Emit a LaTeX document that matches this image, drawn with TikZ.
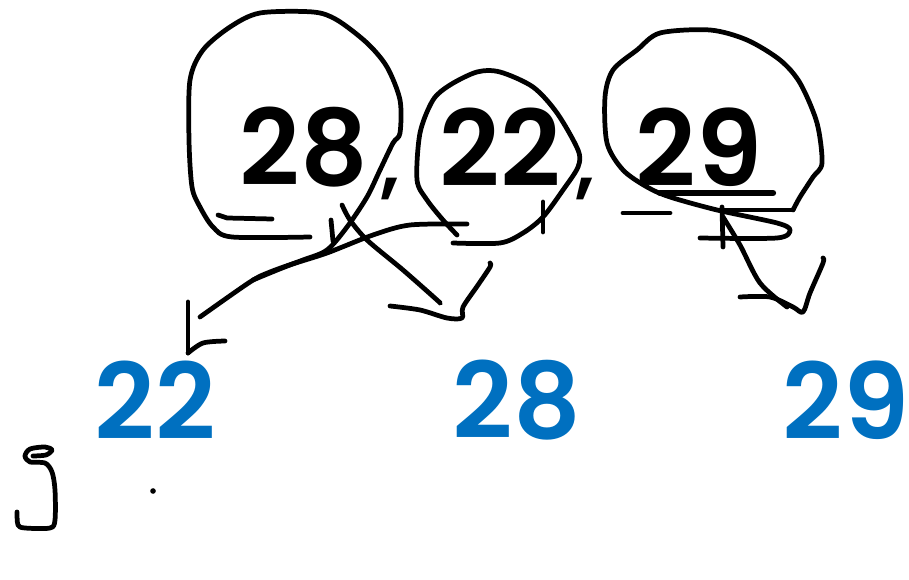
\documentclass[tikz,border=0pt]{standalone}
\usepackage{fontspec}
\newfontfamily\numfont{Poppins SemiBold}
\definecolor{penblue}{HTML}{0070C0}

\begin{document}
\begin{tikzpicture}[x=0.02cm, y=-0.02cm,
  pen/.style={line width=2.7pt, line cap=round, line join=round},
  numtext/.style={inner sep=0pt, font=\numfont\fontsize{60}{60}\selectfont},
  commatext/.style={inner sep=0pt, font=\numfont\fontsize{44}{44}\selectfont}]

  \useasboundingbox (0,0) rectangle (909,580);

  % --- 1. 上段の数 ---
  \node[numtext] (top28) at (304,147) {28};
  \node[numtext] (top22) at (500,147) {22};
  \node[numtext] (top29) at (699,147) {29};
  \node[commatext, anchor=base] (comA) at (390,190) {,};
  \node[commatext, anchor=base] (comB) at (585,190) {,};

  % --- 2. 下段の数 (青) ---
  \node[numtext, penblue] (low22) at (155,400) {22};
  \node[numtext, penblue] (low28) at (517,400) {28};
  \node[numtext, penblue] (low29) at (846,400) {29};

  % --- 3. 28 の囲み と 22 への線 ---
  \draw[pen] plot[smooth, tension=0.5] coordinates {(310,237) (232,237) (213,227) (200,207) (192,187)
    (189,140) (190,80) (203,50) (230,27) (260,13) (313,12) (337,20) (367,43) (387,67) (400,100)
    (400,133) (393,143) (380,170) (367,197) (347,227) (327,250) (303,260) (270,272) (250,282) (200,317)};
  \draw[pen] (218,215) -- (227,218) -- (272,219);
  \draw[pen] (331,220) -- (333,241);

  % --- 4. 22 の囲み ---
  \draw[pen] plot[smooth, tension=0.5] coordinates {(453,243) (500,243) (523,233) (543,217) (563,190)
    (578,167) (578,150) (557,113) (533,87) (500,72) (477,72) (450,85) (433,100) (420,133) (417,180)
    (427,200) (443,220) (457,235)};
  \draw[pen] plot[smooth, tension=0.5] coordinates {(467,224) (410,225) (373,235) (327,253) (290,265) (253,280)};
  \draw[pen] (543,202) -- (543,232);

  % 矢じり (左の 22)
  \draw[pen] (188,302) -- (188,353);
  \draw[pen] plot[smooth] coordinates {(188,353) (203,343) (225,341)};

  % --- 5. 28 -> 28 ---
  \draw[pen] plot[smooth, tension=0.5] coordinates {(342,205) (350,220) (367,240) (403,270) (437,300) (440,303)};
  \draw[pen] plot[smooth, tension=0.5] coordinates {(390,306) (420,310) (447,318) (462,318) (463,307)
    (478,285) (490,267) (490,263)};

  % --- 6. 29 の囲み ---
  \draw[pen] plot[smooth, tension=0.5] coordinates {(793,210) (800,197) (813,177) (822,163) (817,123)
    (800,83) (780,60) (747,40) (710,30) (660,33) (637,50) (613,70) (605,97) (607,143) (623,170)
    (647,187) (670,197) (717,210) (777,223) (790,230) (777,238) (700,238)};
  \draw[pen] (717,210) -- (793,210);
  \draw[pen, line width=3.6pt] (660,193) -- (773,193);
  \draw[pen] (722,207) -- (723,247);
  \draw[pen] (623,213) -- (670,213);

  % --- 7. 29 -> 29 ---
  \draw[pen] plot[smooth, tension=0.5] coordinates {(723,217) (740,245) (760,283) (787,307)};
  \draw[pen] plot[smooth, tension=0.5] coordinates {(740,297) (770,297) (793,307) (803,312) (810,293)
    (823,263) (823,258)};

  % --- 8. 左下の記号 と 点 ---
  \draw[pen] plot[smooth, tension=0.5] coordinates {(17,512) (18,525) (25,528) (50,528) (55,520)
    (55,490) (52,472) (45,463) (30,462) (25,456) (30,449) (45,447) (52,450) (46,455) (33,456)};
  \fill (153,491) circle (1.6pt);

\end{tikzpicture}
\end{document}
